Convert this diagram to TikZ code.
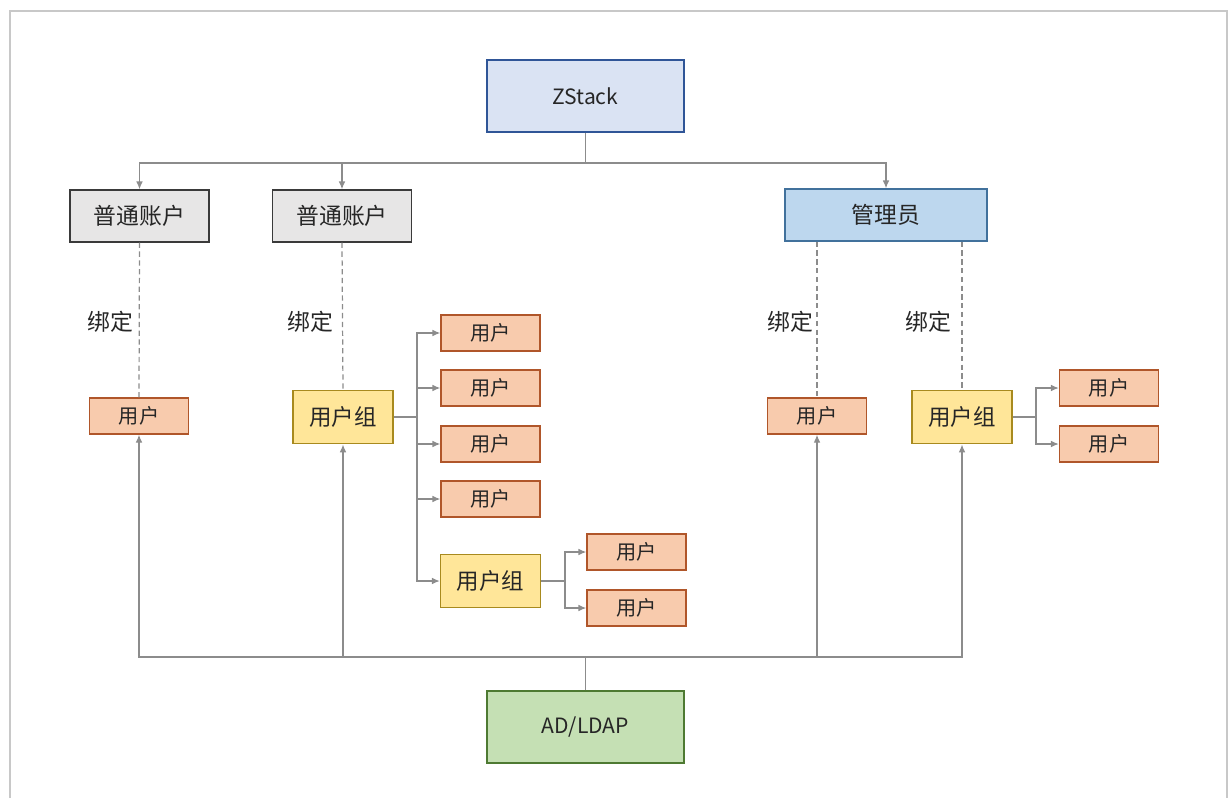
\documentclass[tikz,border=0pt]{standalone}
\usepackage{fontspec}
\setmainfont{Noto Sans CJK SC}
\usetikzlibrary{arrows.meta}

\definecolor{linegray}{HTML}{8C8C8C}
\definecolor{framegray}{HTML}{C8C8C8}
\definecolor{zsfill}{HTML}{DAE3F3}
\definecolor{zsdraw}{HTML}{2F5597}
\definecolor{accfill}{HTML}{E7E6E6}
\definecolor{accdraw}{HTML}{3A3A3A}
\definecolor{admfill}{HTML}{BDD7EE}
\definecolor{admdraw}{HTML}{41719C}
\definecolor{userfill}{HTML}{F8CBAD}
\definecolor{userdraw}{HTML}{B0562A}
\definecolor{grpfill}{HTML}{FFE699}
\definecolor{grpdraw}{HTML}{A88A1E}
\definecolor{ldapfill}{HTML}{C5E0B4}
\definecolor{ldapdraw}{HTML}{4E7A32}

\tikzset{
  box/.style={draw, line width=0.8pt, inner sep=0pt, text=black!85},
  rootbox/.style={box, fill=zsfill, draw=zsdraw, minimum width=3.94cm, minimum height=1.44cm, font=\fontsize{12}{14}\selectfont},
  ldapbox/.style={box, fill=ldapfill, draw=ldapdraw, minimum width=3.94cm, minimum height=1.44cm, font=\fontsize{12}{14}\selectfont},
  accbox/.style={box, fill=accfill, draw=accdraw, minimum width=2.78cm, minimum height=1.04cm, font=\fontsize{13}{15}\selectfont},
  admbox/.style={box, fill=admfill, draw=admdraw, minimum width=4.04cm, minimum height=1.04cm, font=\fontsize{13}{15}\selectfont},
  userbox/.style={box, fill=userfill, draw=userdraw, minimum width=1.98cm, minimum height=0.72cm, font=\fontsize{11.5}{13}\selectfont},
  grpbox/.style={box, fill=grpfill, draw=grpdraw, minimum width=2.0cm, minimum height=1.07cm, font=\fontsize{12.8}{15}\selectfont},
  line/.style={draw=linegray, line width=0.7pt},
  arr/.style={line, -{Latex[length=4.5pt,width=3.8pt]}},
  bind/.style={draw=linegray, line width=0.7pt, dash pattern=on 3pt off 2pt},
  bindlabel/.style={font=\fontsize{13}{15}\selectfont, text=black!85}
}

\begin{document}
\begin{tikzpicture}[x=0.02cm, y=-0.02cm]
    \useasboundingbox (0,0) rectangle (1229,798);
    \draw[framegray, line width=1.1pt] (10,798) -- (10,11) -- (1227,11) -- (1227,798);

    % Nodes
    \node[rootbox] (zs) at (585.5,96) {ZStack};
    \node[accbox] (acc1) at (139.5,216) {普通账户};
    \node[accbox] (acc2) at (342,216) {普通账户};
    \node[admbox] (adm) at (886,215) {管理员};

    \node[userbox] (ua) at (139,416) {用户};
    \node[grpbox] (ga) at (343,417) {用户组};
    \node[userbox] (ub1) at (490.5,333) {用户};
    \node[userbox] (ub2) at (490.5,388) {用户};
    \node[userbox] (ub3) at (490.5,444) {用户};
    \node[userbox] (ub4) at (490.5,499) {用户};
    \node[grpbox] (gb) at (490.5,581) {用户组};
    \node[userbox] (uc1) at (636.5,552) {用户};
    \node[userbox] (uc2) at (636.5,608) {用户};

    \node[userbox] (ud) at (817,416) {用户};
    \node[grpbox] (ge) at (962,417) {用户组};
    \node[userbox] (ue1) at (1109,388) {用户};
    \node[userbox] (ue2) at (1109,444) {用户};

    \node[ldapbox] (ldap) at (585.5,727) {AD/LDAP};

    \node[bindlabel] (l1) at (110,322) {绑定};
    \node[bindlabel] (l2) at (310,322) {绑定};
    \node[bindlabel] (l3) at (790,322) {绑定};
    \node[bindlabel] (l4) at (928,322) {绑定};

    \coordinate (tbus) at (585.5,163);
    \coordinate (bbus) at (585.5,657);
    \coordinate (bra) at (417,417);
    \coordinate (brb) at (565,581);
    \coordinate (bre) at (1036,417);

    % Edges
    \draw[line] (zs) -- (tbus);
    \draw[arr] (tbus) -| (acc1);
    \draw[arr] (tbus) -| (acc2);
    \draw[arr] (tbus) -| (adm);

    \draw[bind] (acc1.south) -- (ua.north);
    \draw[bind] (acc2.south) -- (ga.north);
    \draw[bind] (ud.north |- adm.south) -- (ud.north);
    \draw[bind] (ge.north |- adm.south) -- (ge.north);

    \draw[line] (ga) -- (bra);
    \foreach \n in {ub1,ub2,ub3,ub4,gb}
      \draw[arr] (bra) |- (\n);
    \draw[line] (gb) -- (brb);
    \foreach \n in {uc1,uc2}
      \draw[arr] (brb) |- (\n);
    \draw[line] (ge) -- (bre);
    \foreach \n in {ue1,ue2}
      \draw[arr] (bre) |- (\n);

    \draw[line] (ldap) -- (bbus);
    \draw[arr] (bbus) -| (ua);
    \draw[arr] (bbus) -| (ga);
    \draw[arr] (bbus) -| (ud);
    \draw[arr] (bbus) -| (ge);
  \end{tikzpicture}
\end{document}
